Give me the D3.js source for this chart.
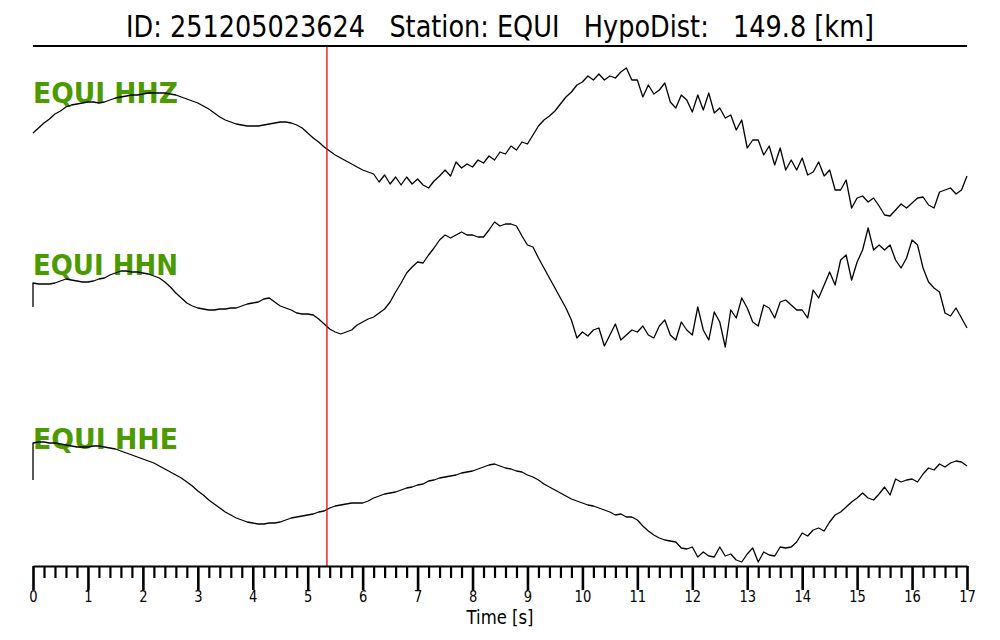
<!DOCTYPE html>
<html>
<head>
<meta charset="utf-8">
<script src="https://cdn.jsdelivr.net/npm/d3@7"></script>
<style>
  body { margin: 0; background: #fff; }
  svg { display: block; }
</style>
</head>
<body>
<svg id="chart"></svg>
<script>
// header
var eventId = "251205023624";
var station = "EQUI";
var hypoDist = 149.8;

// traces, sampled every 0.1 s, amplitude (up positive, relative to trace centre)
var channels = ["HHZ", "HHN", "HHE"];
var sampleStep = 0.1;
var pickTime = 5.35;
var firstSample = [10, -19, 23];

var hhz = [
  10,15,20,24,29,32,36,38,39,40,
  41,41,40,41,43,45,46,47,48,48,
  49,50,50,50,50,49,48,46,44,42,
  40,37,34,30,26,23,21,19,18,17,
  17,17,18,19,20,21,21,20,18,15,
  10,5,1,-4,-8,-12,-15,-18,-21,-24,
  -27,-29,-31,-39,-32,-41,-34,-42,-34,-41,
  -36,-42,-45,-38,-33,-27,-33,-19,-25,-21,
  -24,-17,-20,-13,-17,-9,-11,-3,-7,1,
  -1,8,17,23,27,32,39,46,51,58,
  61,67,63,69,63,67,65,71,75,63,
  63,46,58,49,53,60,41,35,48,43,
  31,48,33,50,30,35,25,28,13,23,
  -5,3,3,-12,-3,-22,-5,-27,-17,-27,
  -15,-32,-29,-19,-33,-27,-47,-47,-37,-65,
  -55,-53,-59,-55,-63,-72,-73,-67,-61,-65,
  -60,-55,-54,-62,-65,-49,-47,-45,-51,-47,
  -33
];

var hhn = [
  5,4,4,4,5,7,9,8,7,6,
  6,7,9,10,13,15,17,17,16,16,
  15,14,12,10,6,1,-5,-10,-15,-18,
  -20,-21,-22,-22,-21,-21,-20,-20,-18,-16,
  -15,-14,-11,-10,-14,-18,-20,-22,-25,-26,
  -26,-27,-31,-36,-41,-44,-46,-44,-42,-37,
  -34,-31,-29,-25,-21,-14,-4,5,15,21,
  26,25,33,40,48,53,50,53,56,53,
  53,51,51,58,66,62,64,64,62,52,
  43,41,30,20,10,0,-10,-20,-32,-50,
  -44,-48,-42,-40,-58,-47,-36,-52,-47,-42,
  -44,-38,-47,-50,-38,-32,-47,-52,-34,-42,
  -47,-19,-42,-52,-24,-34,-59,-22,-30,-10,
  -20,-34,-38,-17,-20,-30,-14,-12,-17,-22,
  -22,-30,-2,-10,3,16,3,28,33,8,
  26,38,60,38,43,38,43,28,20,30,
  48,43,20,6,0,-4,-25,-28,-20,-30,
  -40
];

var hhe = [
  60,61,61,60,60,59,58,57,56,56,
  56,57,57,56,55,54,52,50,48,46,
  44,42,40,37,34,31,28,25,21,17,
  12,8,3,-1,-5,-9,-12,-15,-17,-19,
  -20,-21,-21,-20,-20,-19,-17,-15,-14,-13,
  -12,-11,-9,-8,-5,-3,-2,-1,0,0,
  0,2,5,7,9,10,11,13,15,16,
  18,19,22,23,25,26,27,28,30,31,
  32,34,36,38,39,37,35,34,32,31,
  28,26,23,19,16,13,10,7,4,2,
  0,-2,-3,-5,-7,-9,-12,-11,-14,-14,
  -17,-23,-28,-32,-35,-37,-38,-39,-45,-46,
  -44,-54,-49,-53,-54,-44,-53,-51,-57,-59,
  -51,-45,-59,-49,-52,-53,-44,-45,-44,-39,
  -30,-33,-27,-25,-28,-19,-12,-9,-4,1,
  5,10,5,3,9,16,8,24,21,23,
  24,21,29,35,33,39,36,40,42,41,
  37
];

var traces = [hhz, hhn, hhe];

var majorTicks = d3.range(0, 18);
var minorTicks = d3.range(0, 85).map(function(i){ return i / 5; }).filter(function(v){ return v % 1 !== 0; });

function drawSeismogram(width, height){

    var margin = {"top": 46, "right": 33, "bottom": 74, "left": 33};
    var traceCentres = [143, 288, 503];
    var labelBaselines = [103, 275, 449];
    var green = "#4c9a00";

    var svg = d3.select('#chart')
        .attr("width", width)
        .attr("height", height);

    var xScale = d3.scaleLinear()
        .domain([0, 17])
        .range([margin.left, width - margin.right]);

    var axisY = height - margin.bottom;

    // title + rule (text squeezed a bit, like the original figure)
    svg.append("text")
        .attr("x", width / 2)
        .attr("y", 37)
        .attr("text-anchor", "middle")
        .attr("textLength", 748)
        .attr("lengthAdjust", "spacingAndGlyphs")
        .style("font-family", "DejaVu Sans")
        .style("font-size", "30px")
        .style("white-space", "pre")
        .text("ID: " + eventId + "   Station: " + station + "   HypoDist:   " + hypoDist.toFixed(1) + " [km]");

    svg.append("line")
        .attr("x1", margin.left).attr("x2", width - margin.right)
        .attr("y1", margin.top).attr("y2", margin.top)
        .attr("stroke", "black")
        .attr("stroke-width", 2);

    // channel labels (under the traces)
    channels.forEach(function(c, k){
        svg.append("text")
            .attr("x", margin.left)
            .attr("y", labelBaselines[k])
            .attr("textLength", 145)
            .attr("lengthAdjust", "spacingAndGlyphs")
            .style("font-family", "DejaVu Sans")
            .style("font-weight", "bold")
            .style("font-size", "28.5px")
            .style("fill", green)
            .text(station + " " + c);
    });

    // traces
    traces.forEach(function(values, k){
        var yScale = d3.scaleLinear()
            .domain([-100, 100])
            .range([traceCentres[k] + 100, traceCentres[k] - 100]);

        var pts = [[0, firstSample[k]]];
        values.forEach(function(v, i){ pts.push([i * sampleStep, v]); });

        var line = d3.line()
            .x(function(d){ return xScale(d[0]); })
            .y(function(d){ return yScale(d[1]); });

        svg.append("path")
            .datum(pts)
            .attr("d", line)
            .attr("fill", "none")
            .attr("stroke", "black")
            .attr("stroke-width", 1.3)
            .attr("stroke-linejoin", "round");
    });

    // pick
    svg.append("line")
        .attr("x1", xScale(pickTime)).attr("x2", xScale(pickTime))
        .attr("y1", margin.top + 1).attr("y2", axisY)
        .attr("stroke", "#e8000b")
        .attr("stroke-width", 1.3);

    // axes
    var minorAxis = d3.axisBottom(xScale)
        .tickValues(minorTicks)
        .tickSize(12)
        .tickSizeOuter(0)
        .tickFormat("");

    var g2 = svg.append("g")
        .attr("transform", "translate(0," + axisY + ")")
        .call(minorAxis);
    g2.select(".domain").remove();
    g2.selectAll(".tick line").attr("stroke-width", 2.2);

    var majorAxis = d3.axisBottom(xScale)
        .tickValues(majorTicks)
        .tickSize(24)
        .tickSizeOuter(0)
        .tickPadding(1)
        .tickFormat(d3.format("d"));

    var g1 = svg.append("g")
        .attr("transform", "translate(0," + axisY + ")")
        .call(majorAxis);
    g1.select(".domain").attr("stroke-width", 2.2);
    g1.selectAll(".tick line").attr("stroke-width", 2.6);
    g1.selectAll(".tick text")
        .style("font-family", "DejaVu Sans")
        .style("font-size", "16px")
        .attr("textLength", function(d){ return String(d).length * 8.3; })
        .attr("lengthAdjust", "spacingAndGlyphs")
        .attr("fill", "black");

    svg.append("text")
        .attr("x", width / 2)
        .attr("y", axisY + 58)
        .attr("text-anchor", "middle")
        .attr("textLength", 67)
        .attr("lengthAdjust", "spacingAndGlyphs")
        .style("font-family", "DejaVu Sans")
        .style("font-size", "19.5px")
        .text("Time [s]");
}

drawSeismogram(1000, 640);
</script>
</body>
</html>
